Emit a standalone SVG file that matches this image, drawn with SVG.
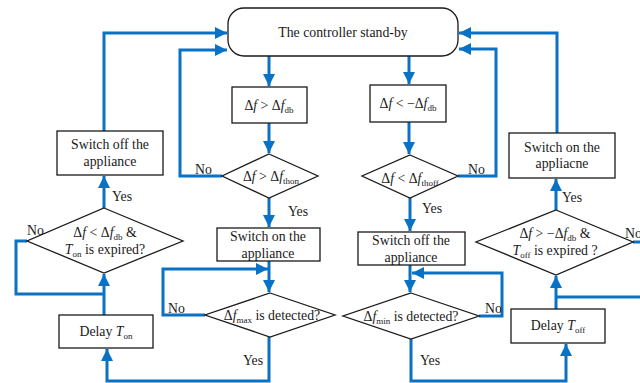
<svg xmlns="http://www.w3.org/2000/svg" width="640" height="383" viewBox="0 0 640 383">
<style>
.n{fill:#fff;stroke:#1a1a1a;stroke-width:1.3}
.t{font-family:"Liberation Serif","Times New Roman",serif;font-size:13.8px;fill:#1a1a1a;text-anchor:middle}
.l{font-family:"Liberation Serif","Times New Roman",serif;font-size:13.8px;fill:#1a1a1a}
.s{font-size:9px}
.c{fill:none;stroke:#0a72c4;stroke-width:3}
</style>
<defs>
<marker id="a" markerUnits="userSpaceOnUse" markerWidth="14" markerHeight="12" refX="12" refY="6" orient="auto">
<path d="M0,0 L12,6 L0,12 z" fill="#0a72c4"/>
</marker>
</defs>
<rect width="640" height="383" fill="#fff"/>
<g id="connectors">
<path class="c" d="M104,131 V33 H227" marker-end="url(#a)"/>
<path class="c" d="M222,176 H180 V50 H227" marker-end="url(#a)"/>
<path class="c" d="M269,56 V86" marker-end="url(#a)"/>
<path class="c" d="M269,123 V153" marker-end="url(#a)"/>
<path class="c" d="M269,198 V227" marker-end="url(#a)"/>
<path class="c" d="M269,261 V292" marker-end="url(#a)"/>
<path class="c" d="M205,315 H163 V269 H268" marker-end="url(#a)"/>
<path class="c" d="M269,337 V381 H107 V349" marker-end="url(#a)"/>
<path class="c" d="M104,315 V274" marker-end="url(#a)"/>
<path class="c" d="M27,241 H16 V294 H104"/>
<path class="c" d="M104,208 V176" marker-end="url(#a)"/>
<path class="c" d="M409,56 V84" marker-end="url(#a)"/>
<path class="c" d="M409,122 V154" marker-end="url(#a)"/>
<path class="c" d="M458,176 H496 V49 H459" marker-end="url(#a)"/>
<path class="c" d="M410,198 V231" marker-end="url(#a)"/>
<path class="c" d="M410,265 V292" marker-end="url(#a)"/>
<path class="c" d="M479,316 H502 V273 H412" marker-end="url(#a)"/>
<path class="c" d="M411,339 V381 H566 V344" marker-end="url(#a)"/>
<path class="c" d="M556,309 V276" marker-end="url(#a)"/>
<path class="c" d="M633,242 H646 V297 H556"/>
<path class="c" d="M556,210 V179" marker-end="url(#a)"/>
<path class="c" d="M557,133 V33 H459" marker-end="url(#a)"/>
</g>
<g id="standby">
<rect class="n" x="228" y="8" width="230" height="48" rx="16"/>
<text class="t" x="343" y="37">The controller stand-by</text>
</g>
<g id="cond-up">
<rect class="n" x="232" y="87" width="75" height="36"/>
<text class="t" x="269" y="110">Δ<tspan font-style="italic">f</tspan> &gt; Δ<tspan font-style="italic">f</tspan><tspan class="s" dy="3">db</tspan></text>
</g>
<g id="cond-down">
<rect class="n" x="370" y="85" width="76" height="37"/>
<text class="t" x="408" y="108">Δ<tspan font-style="italic">f</tspan> &lt; −Δ<tspan font-style="italic">f</tspan><tspan class="s" dy="3">db</tspan></text>
</g>
<g id="dia-thon">
<polygon class="n" points="269,154 318,176 269,198 222,176"/>
<text class="t" x="271" y="181">Δ<tspan font-style="italic">f</tspan> &gt; Δ<tspan font-style="italic">f</tspan><tspan class="s" dy="3">thon</tspan></text>
</g>
<g id="dia-thoff">
<polygon class="n" points="410,155 458,176 410,198 362,176"/>
<text class="t" x="410" y="183">Δ<tspan font-style="italic">f</tspan> &lt; Δ<tspan font-style="italic">f</tspan><tspan class="s" dy="3">thoff</tspan></text>
</g>
<g id="switch-off-left">
<rect class="n" x="57" y="131" width="106" height="44"/>
<text class="t" x="110" y="149">Switch off the</text>
<text class="t" x="110" y="166">appliance</text>
</g>
<g id="switch-on-right">
<rect class="n" x="509" y="133" width="106" height="45"/>
<text class="t" x="562" y="152">Switch on the</text>
<text class="t" x="562" y="168">appliacne</text>
</g>
<g id="dia-ton">
<polygon class="n" points="104,208 183,241 104,273 27,241"/>
<text class="t" x="105" y="237">Δ<tspan font-style="italic">f</tspan>  &lt; Δ<tspan font-style="italic">f</tspan><tspan class="s" dy="3">db</tspan><tspan dy="-3"> &amp;</tspan></text>
<text class="t" x="105" y="254"><tspan font-style="italic">T</tspan><tspan class="s" dy="3">on</tspan><tspan dy="-3"> is expired?</tspan></text>
</g>
<g id="dia-toff">
<polygon class="n" points="556,210 633,242 556,275 476,242"/>
<text class="t" x="555" y="238">Δ<tspan font-style="italic">f</tspan>  &gt; −Δ<tspan font-style="italic">f</tspan><tspan class="s" dy="3">db</tspan><tspan dy="-3"> &amp;</tspan></text>
<text class="t" x="555" y="255"><tspan font-style="italic">T</tspan><tspan class="s" dy="3">off</tspan><tspan dy="-3"> is expired ?</tspan></text>
</g>
<g id="switch-on-mid">
<rect class="n" x="217" y="228" width="103" height="33"/>
<text class="t" x="268" y="241">Switch on the</text>
<text class="t" x="268" y="258">appliance</text>
</g>
<g id="switch-off-mid">
<rect class="n" x="358" y="232" width="107" height="33"/>
<text class="t" x="411" y="245">Switch off the</text>
<text class="t" x="411" y="262">appliance</text>
</g>
<g id="dia-max">
<polygon class="n" points="270,293 335,315 270,337 205,315"/>
<text class="t" x="272" y="320">Δ<tspan font-style="italic">f</tspan><tspan class="s" dy="3">max</tspan><tspan dy="-3"> is detected?</tspan></text>
</g>
<g id="dia-min">
<polygon class="n" points="411,293 479,316 411,339 343,316"/>
<text class="t" x="411" y="321">Δ<tspan font-style="italic">f</tspan><tspan class="s" dy="3">min</tspan><tspan dy="-3"> is detected?</tspan></text>
</g>
<g id="delay-on">
<rect class="n" x="59" y="315" width="94" height="33"/>
<text class="t" x="106" y="336">Delay <tspan font-style="italic">T</tspan><tspan class="s" dy="3">on</tspan></text>
</g>
<g id="delay-off">
<rect class="n" x="511" y="309" width="94" height="34"/>
<text class="t" x="558" y="330">Delay <tspan font-style="italic">T</tspan><tspan class="s" dy="3">off</tspan></text>
</g>
<g id="labels">
<text class="l" x="195" y="174">No</text>
<text class="l" x="468" y="174">No</text>
<text class="l" x="288" y="216">Yes</text>
<text class="l" x="422" y="213">Yes</text>
<text class="l" x="112" y="201">Yes</text>
<text class="l" x="562" y="202">Yes</text>
<text class="l" x="27" y="235">No</text>
<text class="l" x="625" y="238">No</text>
<text class="l" x="168" y="313">No</text>
<text class="l" x="485" y="313">No</text>
<text class="l" x="243" y="365">Yes</text>
<text class="l" x="420" y="365">Yes</text>
</g>
</svg>
